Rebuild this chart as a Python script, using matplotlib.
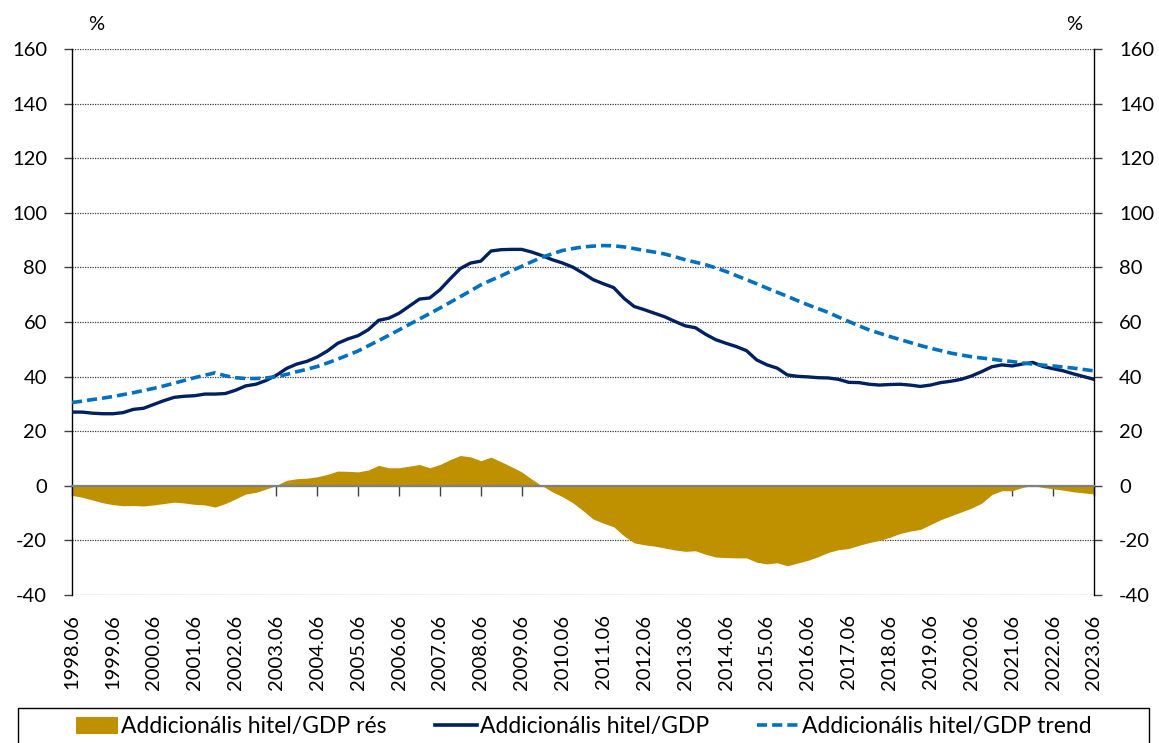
import numpy as np
import matplotlib
matplotlib.use("Agg")
import matplotlib.pyplot as plt
from matplotlib.patches import Patch, Rectangle
from matplotlib.lines import Line2D

plt.rcParams['font.family'] = ['Lato', 'DejaVu Sans']
plt.rcParams['axes.unicode_minus'] = False

# quarterly data, 1998.06 ... 2023.06
periods = [f"{y}.{m:02d}" for y in range(1998, 2024) for m in (3, 6, 9, 12)][1:102]

credit_gdp = [
    27.0, 27.0, 26.6, 26.4, 26.4, 26.8, 28.0, 28.4, 29.8, 31.2,
    32.4, 32.8, 33.0, 33.6, 33.6, 33.8, 35.0, 36.6, 37.2, 38.6,
    40.5, 43.0, 44.6, 45.6, 47.2, 49.4, 52.2, 53.8, 55.0, 57.2,
    60.6, 61.4, 63.2, 65.8, 68.4, 68.8, 71.8, 75.8, 79.6, 81.6,
    82.3, 86.0, 86.5, 86.6, 86.6, 85.6, 84.3, 82.8, 81.6, 80.1,
    77.9, 75.5, 74.0, 72.6, 68.7, 65.7, 64.5, 63.2, 61.9, 60.2,
    58.6, 57.9, 55.5, 53.5, 52.2, 51.0, 49.5, 46.1, 44.3, 43.1,
    40.6, 40.1, 39.9, 39.6, 39.5, 39.0, 37.9, 37.8, 37.2, 36.9,
    37.1, 37.2, 36.9, 36.4, 36.9, 37.8, 38.3, 39.0, 40.2, 41.8,
    43.6, 44.3, 43.9, 44.6, 45.2, 43.7, 42.9, 42.1, 41.0, 40.0,
    39.0,
]

credit_trend = [
    30.5, 31.0, 31.6, 32.1, 32.7, 33.4, 34.1, 34.9, 35.7, 36.6,
    37.6, 38.6, 39.6, 40.5, 41.4, 40.3, 39.6, 39.3, 39.3, 39.5,
    40.0, 40.8, 41.8, 42.7, 43.7, 45.0, 46.4, 47.9, 49.4, 51.3,
    53.2, 55.1, 57.1, 59.1, 61.1, 63.1, 65.1, 67.2, 69.3, 71.4,
    73.6, 75.3, 76.9, 78.7, 80.4, 82.1, 83.7, 85.0, 86.2, 86.9,
    87.5, 87.8, 88.0, 87.9, 87.5, 86.9, 86.2, 85.6, 84.9, 83.9,
    82.8, 81.9, 81.0, 79.8, 78.5, 77.0, 75.5, 74.0, 72.4, 70.9,
    69.4, 67.8, 66.3, 64.9, 63.5, 61.8, 60.2, 58.6, 57.1, 55.9,
    54.7, 53.6, 52.5, 51.4, 50.4, 49.5, 48.6, 47.9, 47.3, 46.8,
    46.4, 45.9, 45.5, 45.0, 44.6, 44.2, 43.9, 43.5, 43.1, 42.6,
    42.1,
]

credit_gap = [
    -3.5, -4.2, -5.2, -6.2, -6.9, -7.3, -7.2, -7.4, -7.0, -6.5,
    -6.0, -6.3, -6.8, -7.0, -7.8, -6.5, -4.8, -3.0, -2.4, -1.2,
    0.2, 2.0, 2.6, 2.8, 3.3, 4.2, 5.4, 5.3, 5.1, 5.8,
    7.5, 6.6, 6.6, 7.2, 7.8, 6.6, 7.8, 9.6, 11.1, 10.6,
    9.2, 10.5, 8.8, 7.0, 5.1, 2.4, 0.0, -2.2, -4.0, -6.2,
    -9.1, -12.2, -13.7, -15.0, -18.3, -20.9, -21.6, -22.1, -22.8, -23.5,
    -24.0, -23.8, -25.1, -26.1, -26.3, -26.4, -26.4, -28.0, -28.6, -28.2,
    -29.3, -28.3, -27.3, -26.0, -24.4, -23.4, -23.0, -21.8, -20.8, -20.0,
    -18.9, -17.5, -16.6, -16.0, -14.2, -12.4, -11.0, -9.6, -8.2, -6.4,
    -3.2, -1.8, -1.8, -0.6, 0.1, -0.6, -1.1, -1.6, -2.2, -2.6,
    -3.0,
]

labels = ["Addicionális hitel/GDP rés", "Addicionális hitel/GDP",
          "Addicionális hitel/GDP trend"]
c_gap = '#BF9000'
c_line = '#002060'
c_trend = '#0070C0'
dash = (0, (2.8, 1.4))

x = np.arange(len(periods))

fig = plt.figure(figsize=(11.59, 7.43), dpi=100)
ax = fig.add_axes([72 / 1159, 1 - 595 / 743, (1094 - 72) / 1159, (595 - 49) / 743])

ax.fill_between(x, 0, credit_gap, color=c_gap, linewidth=0, zorder=2)
ax.plot(x, credit_gdp, color=c_line, linewidth=2.4, zorder=3)
ax.plot(x, credit_trend, color=c_trend, linewidth=2.6, linestyle=dash, zorder=4)

ax.set_xlim(0, len(periods) - 1)
ax.set_ylim(-40, 160)
ax.set_yticks(range(-40, 161, 20))
ax.grid(axis='y', color='#404040', linestyle=(0, (1, 1)), linewidth=0.9, zorder=1)
ax.set_axisbelow(True)

for s in ('left', 'right'):
    ax.spines[s].set_color('black')
    ax.spines[s].set_linewidth(1.0)
ax.spines['top'].set_visible(False)
ax.spines['bottom'].set_position(('data', 0))
ax.spines['bottom'].set_color('#808080')
ax.spines['bottom'].set_linewidth(1.6)
ax.spines['bottom'].set_zorder(5)

tick_pos = x[::4]
ax.set_xticks(tick_pos)
ax.tick_params(axis='x', direction='out', length=7, width=1, color='#404040',
               labelbottom=False)
ax.tick_params(axis='y', direction='out', length=6, width=1, color='#404040',
               labelsize=14.5, pad=12, right=True, labelright=True)

sec = ax.secondary_xaxis('bottom')
sec.set_xticks(tick_pos, [periods[i] for i in tick_pos], rotation=90)
sec.tick_params(length=0, labelsize=14.5, pad=14)
sec.spines['bottom'].set_visible(False)

fig.text(96 / 1159, 1 - 25 / 743, '%', ha='center', va='center', fontsize=14.5)
fig.text(1074 / 1159, 1 - 25 / 743, '%', ha='center', va='center', fontsize=14.5)

handles = [Patch(facecolor=c_gap, edgecolor='none'),
           Line2D([], [], color=c_line, linewidth=2.6),
           Line2D([], [], color=c_trend, linewidth=2.6, linestyle=dash)]
leg = fig.legend(handles, labels, ncol=3, loc='center',
                 bbox_to_anchor=(584 / 1159, 1 - 727 / 743),
                 frameon=False, fontsize=16.5,
                 handlelength=1.85, handleheight=0.75, handletextpad=0.12,
                 columnspacing=2.1)
fig.patches.append(Rectangle((18 / 1159, -0.05), (1149 - 18) / 1159, 0.05 + 1 - 708 / 743,
                             transform=fig.transFigure, fill=False,
                             edgecolor='black', linewidth=1.0))

fig.savefig('out.png', dpi=100)
